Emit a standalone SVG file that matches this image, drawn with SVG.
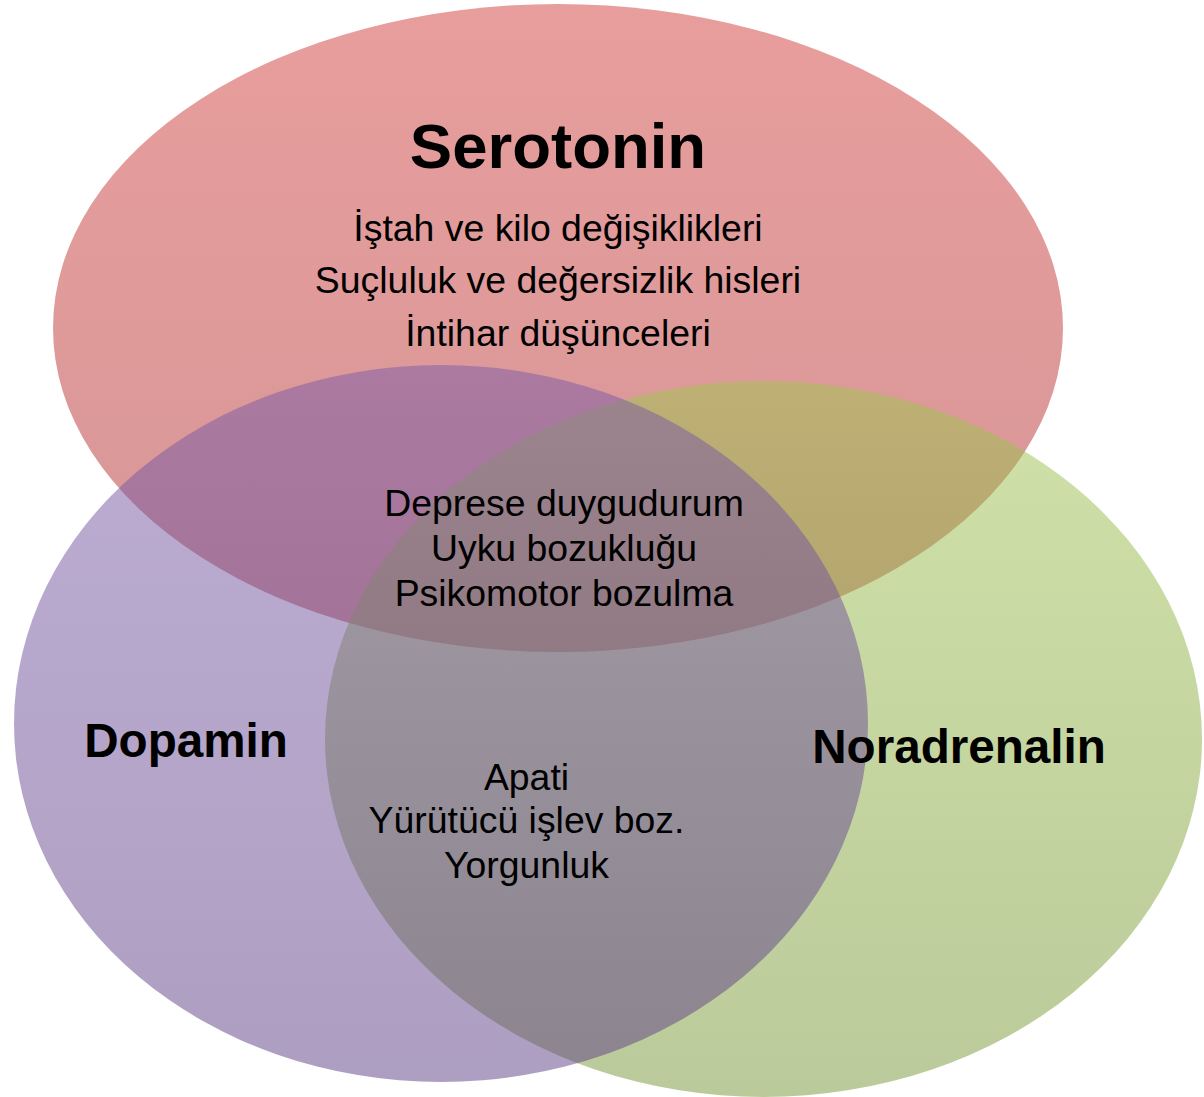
<svg xmlns="http://www.w3.org/2000/svg" width="1204" height="1097" viewBox="0 0 1204 1097">
  <defs>
    <linearGradient id="gS" x1="0" y1="0" x2="0" y2="1">
      <stop offset="0" stop-color="#D13D3B"/>
      <stop offset="1" stop-color="#AC2E2E"/>
    </linearGradient>
    <linearGradient id="gN" x1="0" y1="0" x2="0" y2="1">
      <stop offset="0" stop-color="#A0C550"/>
      <stop offset="1" stop-color="#769536"/>
    </linearGradient>
    <linearGradient id="gD" x1="0" y1="0" x2="0" y2="1">
      <stop offset="0" stop-color="#7B5BA8"/>
      <stop offset="1" stop-color="#5C3F84"/>
    </linearGradient>
  </defs>
  <style>
    .set { fill-opacity: 0.5; }
    .title { font-family: "Liberation Sans", Arial, sans-serif; font-weight: bold; fill: #000; text-anchor: middle; }
    .item { font-family: "Liberation Sans", Arial, sans-serif; font-size: 37.4px; fill: #000; text-anchor: middle; }
  </style>
  <rect width="1204" height="1097" fill="#ffffff"/>
  <g id="serotonin">
    <ellipse class="set" cx="558" cy="328" rx="505" ry="324" fill="url(#gS)"/>
  </g>
  <g id="noradrenalin">
    <ellipse class="set" cx="763.5" cy="739" rx="438.5" ry="358" fill="url(#gN)"/>
  </g>
  <g id="dopamin">
    <ellipse class="set" cx="441" cy="723.5" rx="427" ry="358.5" fill="url(#gD)"/>
  </g>
  <g id="connectors"></g>
  <g id="labels">
    <text class="title" x="558" y="168" font-size="63.5">Serotonin</text>
    <text class="item" x="558" y="241">İştah ve kilo değişiklikleri</text>
    <text class="item" x="558" y="293">Suçluluk ve değersizlik hisleri</text>
    <text class="item" x="558" y="346">İntihar düşünceleri</text>
    <text class="item" x="564" y="516">Deprese duygudurum</text>
    <text class="item" x="564" y="561">Uyku bozukluğu</text>
    <text class="item" x="564" y="606">Psikomotor bozulma</text>
    <text class="title" x="186" y="757" font-size="47.6">Dopamin</text>
    <text class="title" x="959" y="763" font-size="47.6">Noradrenalin</text>
    <text class="item" x="526.5" y="790">Apati</text>
    <text class="item" x="526.5" y="833">Yürütücü işlev boz.</text>
    <text class="item" x="526.5" y="878">Yorgunluk</text>
  </g>
</svg>
